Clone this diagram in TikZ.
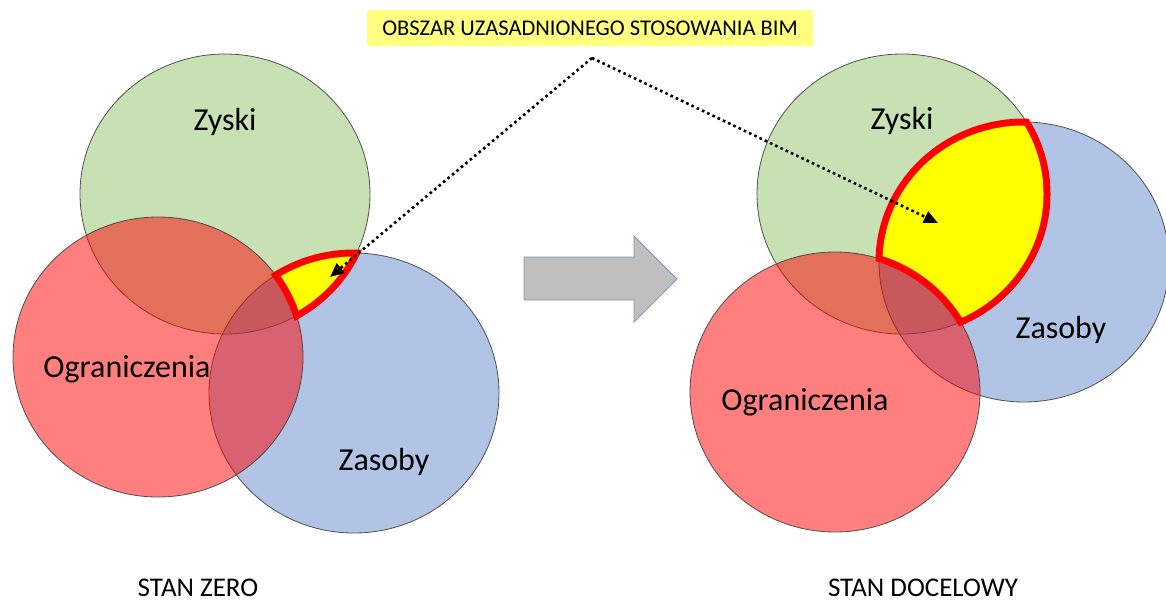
\documentclass[tikz,border=0pt]{standalone}
\usepackage{fontspec}
\setmainfont{Carlito}
\usetikzlibrary{arrows.meta}
\definecolor{zgreen}{RGB}{169,209,142}
\definecolor{zred}{RGB}{255,0,0}
\definecolor{zblue}{RGB}{68,114,196}
\definecolor{lblyellow}{RGB}{255,255,128}
\definecolor{arrowgrey}{RGB}{191,191,191}
\definecolor{arrowedge}{RGB}{132,151,176}
\definecolor{bimyellow}{RGB}{255,255,0}
\definecolor{bimred}{RGB}{255,0,0}
\begin{document}
\begin{tikzpicture}[x=1pt,y=-1pt,
  vgreen/.style={fill=zgreen, fill opacity=0.65, draw=black!75, draw opacity=0.9, line width=0.8pt},
  vblue/.style={fill=zblue, fill opacity=0.42, draw=black!75, draw opacity=0.9, line width=0.8pt},
  vred/.style={fill=zred, fill opacity=0.5, draw=black!75, draw opacity=0.9, line width=0.8pt},
  lbl/.style={font=\fontsize{32}{38}\selectfont, anchor=base, inner sep=0pt},
  caption/.style={font=\fontsize{27}{32}\selectfont, anchor=base, inner sep=0pt},
  pointer/.style={line width=2.6pt, dash pattern=on 2.6pt off 3.2pt, -{Triangle[length=14pt,width=12pt]}},
  bigarrow/.style={fill=arrowgrey, draw=arrowedge, line width=0.8pt}]
\useasboundingbox (0,0) rectangle (1166,603);
\clip (0,0) rectangle (1166,603);

% ---------- left diagram: STAN ZERO ----------
\path[vgreen] (225,194) ellipse [x radius=145pt, y radius=140pt];
\path[vblue]  (354,393) ellipse [x radius=145pt, y radius=140pt];
\path[vred]   (158,357) ellipse [x radius=145pt, y radius=140pt];
\begin{scope}[even odd rule]
  \clip (225,194) ellipse [x radius=148.5pt, y radius=143.5pt];
  \clip (354,393) ellipse [x radius=148.5pt, y radius=143.5pt];
  \clip (0,0) rectangle (1166,603) (158,357) ellipse [x radius=141.5pt, y radius=136.5pt];
  \fill[bimred] (0,0) rectangle (1166,603);
\end{scope}
\begin{scope}[even odd rule]
  \clip (225,194) ellipse [x radius=141.5pt, y radius=136.5pt];
  \clip (354,393) ellipse [x radius=141.5pt, y radius=136.5pt];
  \clip (0,0) rectangle (1166,603) (158,357) ellipse [x radius=148.5pt, y radius=143.5pt];
  \fill[bimyellow] (0,0) rectangle (1166,603);
\end{scope}
\node[lbl] (zyskiL) at (225,130) {Zyski};
\node[lbl] (ogrL) at (127,377) {Ograniczenia};
\node[lbl] (zasobyL) at (384,470) {Zasoby};
\node[caption] (stanzero) at (198,596) {STAN ZERO};

% ---------- right diagram: STAN DOCELOWY ----------
\path[vgreen] (902,194) ellipse [x radius=145pt, y radius=140pt];
\path[vblue]  (1024,262) ellipse [x radius=145pt, y radius=140pt];
\path[vred]   (835,392) ellipse [x radius=145pt, y radius=140pt];
\begin{scope}[even odd rule]
  \clip (902,194) ellipse [x radius=148.5pt, y radius=143.5pt];
  \clip (1024,262) ellipse [x radius=148.5pt, y radius=143.5pt];
  \clip (0,0) rectangle (1166,603) (835,392) ellipse [x radius=141.5pt, y radius=136.5pt];
  \fill[bimred] (0,0) rectangle (1166,603);
\end{scope}
\begin{scope}[even odd rule]
  \clip (902,194) ellipse [x radius=141.5pt, y radius=136.5pt];
  \clip (1024,262) ellipse [x radius=141.5pt, y radius=136.5pt];
  \clip (0,0) rectangle (1166,603) (835,392) ellipse [x radius=148.5pt, y radius=143.5pt];
  \fill[bimyellow] (0,0) rectangle (1166,603);
\end{scope}
\node[lbl] (zyskiR) at (902,129) {Zyski};
\node[lbl] (zasobyR) at (1061,338) {Zasoby};
\node[lbl] (ogrR) at (805,410) {Ograniczenia};
\node[caption] (standoc) at (923,596) {STAN DOCELOWY};

% ---------- transition arrow ----------
\draw[bigarrow] (524,257) -- (634,257) -- (634,236) -- (677,279) -- (634,322) -- (634,300) -- (524,300) -- cycle;

% ---------- label and pointers ----------
\node[fill=lblyellow, minimum width=446pt, minimum height=36pt, inner sep=0pt,
      font=\fontsize{22.5}{27}\selectfont] (label) at (590,28) {OBSZAR UZASADNIONEGO STOSOWANIA BIM};
\coordinate (apex) at (592,58);
\coordinate (tipL) at (330,277);
\coordinate (tipR) at (938,223);
\draw[pointer] (apex) -- (tipL);
\draw[pointer] (apex) -- (tipR);
\end{tikzpicture}
\end{document}
